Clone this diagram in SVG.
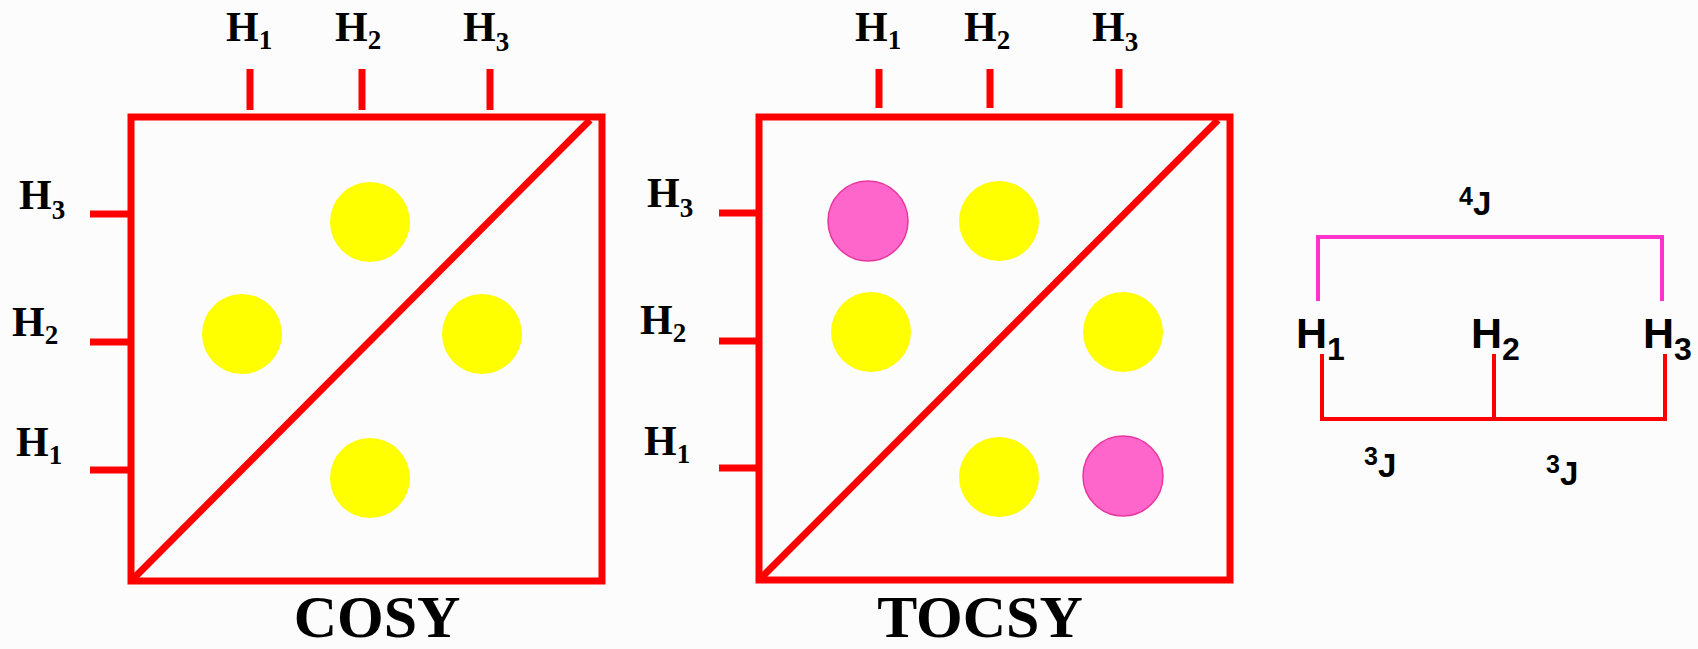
<svg xmlns="http://www.w3.org/2000/svg" width="1698" height="649" viewBox="0 0 1698 649">
<style>
.frame{fill:none;stroke:#ff0000;stroke-width:7}
.tick{stroke:#ff0000;stroke-width:7;fill:none}
.ser{font-family:"Liberation Serif",serif;font-weight:bold;fill:#000}
.lbl{font-size:42px}
.sub{font-size:27px}
.title{font-size:60px}
.y{fill:#ffff00}
.p{fill:#ff66cc;stroke:#e8379e;stroke-width:1.5}
.san{font-family:"Liberation Sans",Arial,sans-serif;font-weight:bold;fill:#000}
.big{font-size:43px}
.bsub{font-size:32px}
.j{font-size:33px}
.jsup{font-size:25px}
</style>
<rect width="1698" height="649" fill="#fcfcfc"/>
<g id="cosy">
<rect class="frame" x="131" y="117" width="471" height="464"/>
<line class="tick" x1="134" y1="578" x2="590" y2="120"/>
<line class="tick" x1="250" y1="69" x2="250" y2="110"/>
<line class="tick" x1="362" y1="69" x2="362" y2="110"/>
<line class="tick" x1="490" y1="69" x2="490" y2="110"/>
<line class="tick" x1="90" y1="214" x2="128" y2="214"/>
<line class="tick" x1="90" y1="342" x2="128" y2="342"/>
<line class="tick" x1="90" y1="470" x2="128" y2="470"/>
<circle class="y" cx="370" cy="222" r="40"/>
<circle class="y" cx="242" cy="334" r="40"/>
<circle class="y" cx="482" cy="334" r="40"/>
<circle class="y" cx="370" cy="478" r="40"/>
<text class="ser lbl" x="226" y="41">H<tspan class="sub" dy="8">1</tspan></text>
<text class="ser lbl" x="335" y="41">H<tspan class="sub" dy="8">2</tspan></text>
<text class="ser lbl" x="463" y="41">H<tspan class="sub" dy="10">3</tspan></text>
<text class="ser lbl" x="19" y="209">H<tspan class="sub" dy="10">3</tspan></text>
<text class="ser lbl" x="12" y="336">H<tspan class="sub" dy="8">2</tspan></text>
<text class="ser lbl" x="16" y="456">H<tspan class="sub" dy="8">1</tspan></text>
<text class="ser title" x="377" y="637" text-anchor="middle">COSY</text>
</g>
<g id="tocsy">
<rect class="frame" x="759" y="117" width="471" height="463"/>
<line class="tick" x1="762" y1="577" x2="1218" y2="120"/>
<line class="tick" x1="879" y1="69" x2="879" y2="108"/>
<line class="tick" x1="990" y1="69" x2="990" y2="108"/>
<line class="tick" x1="1119" y1="69" x2="1119" y2="108"/>
<line class="tick" x1="719" y1="213" x2="756" y2="213"/>
<line class="tick" x1="719" y1="341" x2="756" y2="341"/>
<line class="tick" x1="719" y1="468" x2="756" y2="468"/>
<circle class="p" cx="868" cy="221" r="40"/>
<circle class="y" cx="999" cy="221" r="40"/>
<circle class="y" cx="871" cy="332" r="40"/>
<circle class="y" cx="1123" cy="332" r="40"/>
<circle class="y" cx="999" cy="477" r="40"/>
<circle class="p" cx="1123" cy="476" r="40"/>
<text class="ser lbl" x="855" y="41">H<tspan class="sub" dy="8">1</tspan></text>
<text class="ser lbl" x="964" y="41">H<tspan class="sub" dy="8">2</tspan></text>
<text class="ser lbl" x="1092" y="41">H<tspan class="sub" dy="10">3</tspan></text>
<text class="ser lbl" x="647" y="207">H<tspan class="sub" dy="10">3</tspan></text>
<text class="ser lbl" x="640" y="334">H<tspan class="sub" dy="8">2</tspan></text>
<text class="ser lbl" x="644" y="455">H<tspan class="sub" dy="8">1</tspan></text>
<text class="ser title" x="980" y="637" text-anchor="middle">TOCSY</text>
</g>
<g id="coupling">
<polyline points="1318,301 1318,237 1662,237 1662,301" fill="none" stroke="#ff33cc" stroke-width="4"/>
<polyline points="1322,354 1322,419 1665,419 1665,354" fill="none" stroke="#ff0000" stroke-width="4"/>
<line x1="1494" y1="354" x2="1494" y2="419" stroke="#ff0000" stroke-width="4"/>
<text class="san big" x="1296" y="348">H<tspan class="bsub" dy="12">1</tspan></text>
<text class="san big" x="1471" y="348">H<tspan class="bsub" dy="12">2</tspan></text>
<text class="san big" x="1643" y="348">H<tspan class="bsub" dy="12">3</tspan></text>
<text class="san j" x="1459" y="215"><tspan class="jsup" dy="-10">4</tspan><tspan dy="10">J</tspan></text>
<text class="san j" x="1364" y="477"><tspan class="jsup" dy="-12">3</tspan><tspan dy="12">J</tspan></text>
<text class="san j" x="1546" y="485"><tspan class="jsup" dy="-12">3</tspan><tspan dy="12">J</tspan></text>
</g>
</svg>
